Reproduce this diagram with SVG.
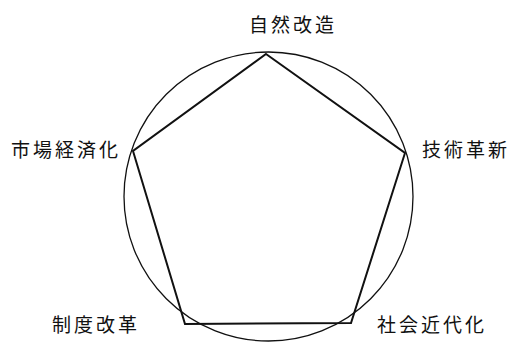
<svg xmlns="http://www.w3.org/2000/svg" width="519" height="348" viewBox="0 0 519 348">
<style>
.lbl{font-family:"Noto Sans CJK JP","Noto Sans CJK SC",sans-serif;font-size:19px;letter-spacing:3px;fill:#111}
.circ{fill:none;stroke:#111;stroke-width:1.3}
.edge{fill:none;stroke:#111;stroke-width:2;stroke-linejoin:miter}
</style>
<rect width="519" height="348" fill="#fff"/>
<g id="connectors">
<circle class="circ" cx="268.5" cy="196.5" r="144.5"/>
<polygon class="edge" points="266,54 405,153 351,323 185,324 133,151"/>
</g>
<g id="n-shizen"><text class="lbl" x="249" y="32">自然改造</text></g>
<g id="n-gijutsu"><text class="lbl" x="422" y="157">技術革新</text></g>
<g id="n-shakai"><text class="lbl" x="377" y="332">社会近代化</text></g>
<g id="n-seido"><text class="lbl" x="52" y="332">制度改革</text></g>
<g id="n-shijo"><text class="lbl" x="11" y="157">市場経済化</text></g>
</svg>
